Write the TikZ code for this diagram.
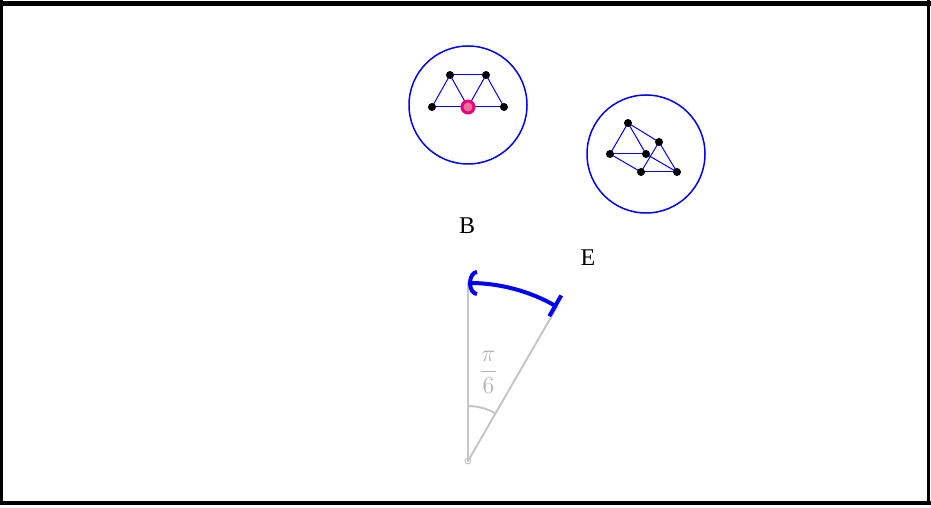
\documentclass[tikz,border=0pt]{standalone}
\usepackage{amsmath}
\usepackage{fontspec}
\setmainfont{Liberation Serif}
\usetikzlibrary{arrows.meta,calc}
\definecolor{dotpink}{RGB}{240,110,150}
\definecolor{ringmag}{RGB}{230,0,126}
\tikzset{
  dot/.style={fill=black},
  edge/.style={blue,line width=0.5pt},
  ring/.style={blue,line width=0.75pt},
  guide/.style={gray!45,line width=1pt},
  tag/.style={font=\fontsize{12}{14}\selectfont}
}
\begin{document}
\begin{tikzpicture}[x=0.5pt,y=0.5pt,line cap=round,line join=round]
\useasboundingbox (0,0) rectangle (931,508);
% frame
\coordinate (fa) at (0,504.5);
\coordinate (fb) at (931,504.5);
\coordinate (fc) at (0,5);
\coordinate (fd) at (931,5);
\coordinate (fl1) at (1.5,508);
\coordinate (fl2) at (1.5,3);
\coordinate (fr1) at (928,508);
\coordinate (fr2) at (928,3);
\draw[line width=2.5pt,line cap=butt] (fa) -- (fb);
\draw[line width=2pt,line cap=butt] (fc) -- (fd);
\draw[line width=1.5pt,line cap=butt] (fl1) -- (fl2);
\draw[line width=1.5pt,line cap=butt] (fr1) -- (fr2);
% first cluster
\coordinate (ca) at (468,403);
\coordinate (a1) at (450,433);
\coordinate (a2) at (486,433);
\coordinate (a3) at (432,401);
\coordinate (a4) at (468,401);
\coordinate (a5) at (504,401);
\draw[ring] (ca) circle (59);
\draw[edge] (a1) -- (a2);
\draw[edge] (a3) -- (a1);
\draw[edge] (a1) -- (a4);
\draw[edge] (a4) -- (a2);
\draw[edge] (a2) -- (a5);
\draw[edge] (a3) -- (a4);
\draw[edge] (a4) -- (a5);
\fill[dot] (a1) circle (4);
\fill[dot] (a2) circle (4);
\fill[dot] (a3) circle (4);
\fill[dot] (a5) circle (4);
\filldraw[fill=dotpink,draw=ringmag,line width=1.5pt] (a4) circle (6);
% second cluster
\coordinate (cb) at (646,354);
\coordinate (b1) at (628,385);
\coordinate (b2) at (659,366);
\coordinate (b3) at (610,354);
\coordinate (b4) at (646,354);
\coordinate (b5) at (641,336);
\coordinate (b6) at (677,336);
\draw[ring] (cb) circle (59);
\draw[edge] (b1) -- (b3);
\draw[edge] (b1) -- (b4);
\draw[edge] (b1) -- (b2);
\draw[edge] (b3) -- (b4);
\draw[edge] (b3) -- (b5);
\draw[edge] (b2) -- (b5);
\draw[edge] (b2) -- (b6);
\draw[edge] (b4) -- (b6);
\draw[edge] (b5) -- (b6);
\fill[dot] (b1) circle (4);
\fill[dot] (b2) circle (4);
\fill[dot] (b3) circle (4);
\fill[dot] (b4) circle (4);
\fill[dot] (b5) circle (4);
\fill[dot] (b6) circle (4);
\node[tag] (lb) at (467,282) {B};
\node[tag] (le) at (588,250) {E};
% angle
\coordinate (O) at (468,47);
\coordinate (P) at ($(O)+(90:178)$);
\coordinate (Q) at ($(O)+(60:178)$);
\draw[guide] (O) -- (P);
\draw[guide] (O) -- (Q);
\draw[guide] ($(O)+(90:55)$) arc (90:60:55);
\draw[gray!45,line width=0.5pt] (O) circle (3);
\node[tag,text=gray!60] (ang) at ($(O)+(77:91)$) {$\dfrac{\pi}{6}$};
\draw[blue,line width=2pt,{Arc Barb[width=13pt,length=4.5pt]}-{Bar[width=12pt]}] (P) arc (90:60:178);
\end{tikzpicture}
\end{document}
